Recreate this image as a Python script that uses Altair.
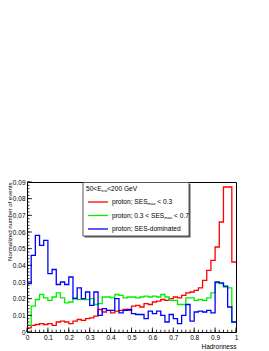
import altair as alt
import pandas as pd

# ---------------- data ----------------
bin_left = [0.00, 0.02, 0.04, 0.06, 0.08, 0.10, 0.12, 0.14, 0.16, 0.18,
            0.20, 0.22, 0.24, 0.26, 0.28, 0.30, 0.32, 0.34, 0.36, 0.38,
            0.40, 0.42, 0.44, 0.46, 0.48, 0.50, 0.52, 0.54, 0.56, 0.58,
            0.60, 0.62, 0.64, 0.66, 0.68, 0.70, 0.72, 0.74, 0.76, 0.78,
            0.80, 0.82, 0.84, 0.86, 0.88, 0.90, 0.92, 0.94, 0.96, 0.98]
x_end = 1.0

red = [0.0025, 0.004, 0.0045, 0.005, 0.0045, 0.005, 0.004, 0.006, 0.0065, 0.006,
       0.005, 0.0065, 0.0075, 0.007, 0.008, 0.0085, 0.0095, 0.0135, 0.012, 0.013,
       0.0115, 0.0125, 0.013, 0.0135, 0.013, 0.0155, 0.016, 0.015, 0.017, 0.0165,
       0.018, 0.0185, 0.0195, 0.019, 0.020, 0.021, 0.0205, 0.022, 0.0235, 0.024,
       0.025, 0.0265, 0.031, 0.037, 0.043, 0.051, 0.066, 0.087, 0.087, 0.042]

green = [0.004, 0.0155, 0.0195, 0.0225, 0.0205, 0.019, 0.021, 0.0235, 0.0205, 0.0175,
         0.018, 0.0205, 0.0195, 0.0195, 0.0195, 0.020, 0.0165, 0.017, 0.021, 0.021,
         0.0205, 0.0225, 0.022, 0.0205, 0.021, 0.021, 0.0205, 0.021, 0.0215, 0.021,
         0.0215, 0.021, 0.0225, 0.021, 0.019, 0.019, 0.0165, 0.0165, 0.0205, 0.0205,
         0.019, 0.0195, 0.019, 0.0205, 0.0235, 0.0295, 0.029, 0.027, 0.0265, 0.006]

blue = [0.029, 0.046, 0.058, 0.052, 0.055, 0.035, 0.0375, 0.0285, 0.030, 0.0285,
        0.033, 0.020, 0.0265, 0.020, 0.024, 0.016, 0.024, 0.010, 0.014, 0.013,
        0.013, 0.020, 0.0115, 0.013, 0.0135, 0.011, 0.0105, 0.0105, 0.008, 0.0125,
        0.011, 0.0125, 0.010, 0.006, 0.0105, 0.008, 0.005, 0.010, 0.0165, 0.0065,
        0.012, 0.0125, 0.012, 0.013, 0.0115, 0.030, 0.0295, 0.0275, 0.015, 0.006]

series_names = ["proton; SES_max < 0.3", "proton; 0.3 < SES_max < 0.7", "proton; SES-dominated"]
series_colors = ["#ff0000", "#00ee00", "#0000ff"]

x_major = [0.0, 0.1, 0.2, 0.3, 0.4, 0.5, 0.6, 0.7, 0.8, 0.9, 1.0]
y_major = [0.0, 0.01, 0.02, 0.03, 0.04, 0.05, 0.06, 0.07, 0.08, 0.09]
x_minor = [round(i * 0.02, 2) for i in range(51)]
y_minor = [round(i * 0.002, 3) for i in range(46)]

# ---------------- layout ----------------
W, H = 209, 150
FONT = "Liberation Sans"
xscale = alt.Scale(domain=[0, 1], nice=False, zero=False)
yscale = alt.Scale(domain=[0, 0.09], nice=False, zero=False)

AW = {' ': 278, ';': 278, '<': 584, '.': 278, '-': 333, 'E': 667, 'G': 778, 'S': 667,
      'V': 667, 'a': 556, 'd': 556, 'e': 556, 'i': 222, 'm': 833, 'n': 556, 'o': 556,
      'p': 556, 'r': 333, 's': 500, 't': 278, 'x': 500}


def tw(s, size):
    return sum(AW.get(c, 556) for c in s) * size / 1000.0


one = pd.DataFrame({"a": [0]})


def step_df(vals, name):
    return pd.DataFrame({"x": bin_left + [x_end], "y": vals + [vals[-1]], "series": name})


x_axis = alt.Axis(values=x_major, format=".1~f", ticks=False, domain=False, grid=False,
                  labelFontSize=6.5, labelPadding=2, labelColor="black", labelFont=FONT,
                  labelFlush=False, labelOverlap=False,
                  title="Hadronness", titleFont=FONT, titleFontSize=6.5,
                  titleFontWeight="normal", titleColor="black", titleAnchor="end",
                  titleAlign="right", titleBaseline="middle", titleX=W, titleY=14.5)
y_axis = alt.Axis(values=y_major, format=".2~f", ticks=False, domain=False, grid=False,
                  labelFontSize=6.5, labelPadding=2, labelColor="black", labelFont=FONT,
                  labelOverlap=False,
                  title="Normalized number of events", titleFont=FONT, titleFontSize=6,
                  titleFontWeight="normal", titleColor="black", titleAngle=270,
                  titleAlign="right", titleBaseline="middle", titleX=-18, titleY=0)


def X(field):
    return alt.X(field, scale=xscale, axis=x_axis)


def Y(field):
    return alt.Y(field, scale=yscale, axis=y_axis)


layers = []
for vals, name, col in zip([red, green, blue], series_names, series_colors):
    layers.append(
        alt.Chart(step_df(vals, name)).mark_line(interpolate="step-after", strokeWidth=1.3, color=col)
        .encode(x=X("x:Q"), y=Y("y:Q"))
    )

# inner ticks (ROOT style)
layers.append(alt.Chart(pd.DataFrame({"x": x_minor})).mark_rule(color="black", strokeWidth=0.8)
              .encode(x=X("x:Q"), y=alt.value(H), y2=alt.value(H - 2.3)))
layers.append(alt.Chart(pd.DataFrame({"x": x_major})).mark_rule(color="black", strokeWidth=0.8)
              .encode(x=X("x:Q"), y=alt.value(H), y2=alt.value(H - 4.5)))
layers.append(alt.Chart(pd.DataFrame({"y": y_minor})).mark_rule(color="black", strokeWidth=0.8)
              .encode(y=Y("y:Q"), x=alt.value(0), x2=alt.value(2.5)))
layers.append(alt.Chart(pd.DataFrame({"y": y_major})).mark_rule(color="black", strokeWidth=0.8)
              .encode(y=Y("y:Q"), x=alt.value(0), x2=alt.value(5)))

# legend box with shadow
BX0, BX1, BY0, BY1 = 56, 162, 0.5, 54
layers.append(alt.Chart(one).mark_rect(fill="#555555")
              .encode(x=alt.value(BX0 + 1.5), x2=alt.value(BX1 + 1.5), y=alt.value(BY0 + 1.5), y2=alt.value(BY1 + 1.5)))
layers.append(alt.Chart(one).mark_rect(fill="white", stroke="#555555", strokeWidth=1)
              .encode(x=alt.value(BX0), x2=alt.value(BX1), y=alt.value(BY0), y2=alt.value(BY1)))

FS = 6.6
SUB = 4.2


def text_seg(txt, px, py, size):
    return (alt.Chart(one).mark_text(text=txt, align="left", baseline="middle", fontSize=size,
                                     font=FONT, color="black")
            .encode(x=alt.value(px), y=alt.value(py)))


def rich(segments, x0, y0):
    out = []
    x = x0
    for txt, kind in segments:
        if kind == "sp":
            x += tw(" ", FS)
            continue
        if kind == "sub":
            out.append(text_seg(txt, x, y0 + 2, SUB))
            x += tw(txt, SUB)
        else:
            out.append(text_seg(txt, x, y0, FS))
            x += tw(txt, FS)
    return out


layers += rich([("50<E", "n"), ("est", "sub"), ("<200 GeV", "n")], 59, 7)

row_y = [20, 33.5, 47]
row_segs = [
    [("proton; SES", "n"), ("max", "sub"), ("", "sp"), ("< 0.3", "n")],
    [("proton; 0.3 < SES", "n"), ("max", "sub"), ("", "sp"), ("< 0.7", "n")],
    [("proton; SES-dominated", "n")],
]
for ry, segs, col in zip(row_y, row_segs, series_colors):
    layers.append(alt.Chart(one).mark_rule(color=col, strokeWidth=1.3)
                  .encode(x=alt.value(61), x2=alt.value(81), y=alt.value(ry)))
    layers += rich(segs, 85, ry)

chart = (alt.layer(*layers)
         .properties(width=W, height=H, autosize=alt.AutoSizeParams(type="none"),
                     padding={"left": 19, "top": 174, "right": 25, "bottom": 19},
                     background="white")
         .configure_view(stroke="black", strokeWidth=1))

chart.save("out.html", embed_options={"renderer": "svg", "actions": False})
